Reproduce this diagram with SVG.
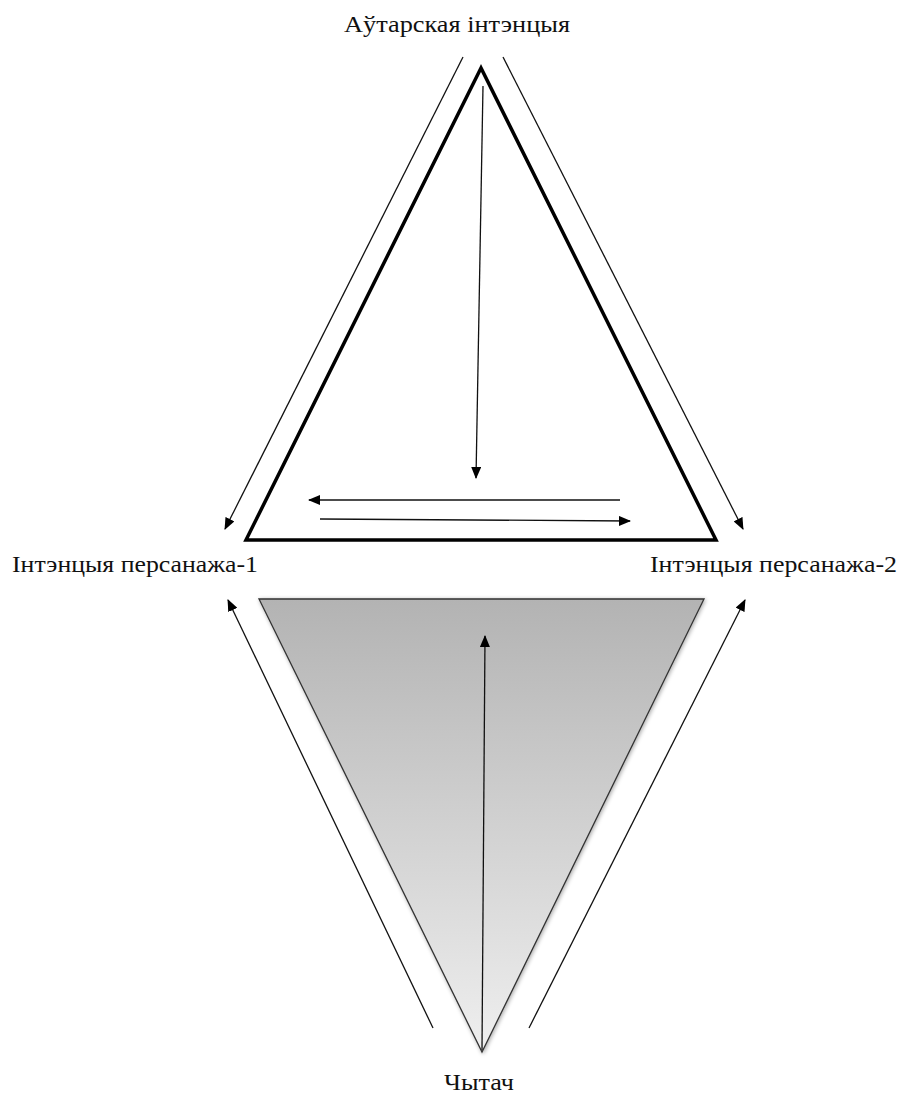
<svg xmlns="http://www.w3.org/2000/svg" width="901" height="1095" viewBox="0 0 901 1095">
<style>
.lbl{font-family:"Liberation Serif","DejaVu Serif",serif;font-size:23px;fill:#111}
.c{stroke:#111;stroke-width:1.3;fill:none}
</style>
<defs>
<marker id="ah" markerWidth="12" markerHeight="10" refX="11" refY="5" orient="auto" markerUnits="userSpaceOnUse">
<path d="M0,0 L12,5 L0,10 Z" fill="#000"/>
</marker>
<linearGradient id="g" x1="0" y1="0" x2="0" y2="1">
<stop offset="0" stop-color="#b3b3b3"/>
<stop offset="1" stop-color="#efefef"/>
</linearGradient>
<filter id="sh" x="-10%" y="-10%" width="120%" height="120%">
<feGaussianBlur in="SourceAlpha" stdDeviation="2"/>
<feOffset dx="1" dy="1"/>
<feComponentTransfer><feFuncA type="linear" slope="0.35"/></feComponentTransfer>
<feMerge><feMergeNode/><feMergeNode in="SourceGraphic"/></feMerge>
</filter>
</defs>
<rect width="901" height="1095" fill="#fff"/>
<g id="top-triangle">
<polygon points="481,68 246,540 716,540" fill="none" stroke="#000" stroke-width="3.5" stroke-linejoin="miter"/>
</g>
<g id="bottom-triangle">
<polygon points="259,599 704,599 482,1052" fill="url(#g)" stroke="#333" stroke-width="1.3" filter="url(#sh)"/>
</g>
<g id="labels">
<text id="author" class="lbl" x="457" y="32" text-anchor="middle" textLength="226" lengthAdjust="spacingAndGlyphs">Аўтарская інтэнцыя</text>
<text id="char1" class="lbl" x="12" y="572" textLength="246" lengthAdjust="spacingAndGlyphs">Інтэнцыя персанажа-1</text>
<text id="char2" class="lbl" x="650" y="572" textLength="247" lengthAdjust="spacingAndGlyphs">Інтэнцыя персанажа-2</text>
<text id="reader" class="lbl" x="479" y="1090" text-anchor="middle" textLength="70" lengthAdjust="spacingAndGlyphs">Чытач</text>
</g>
<g id="connectors">
<line class="c" x1="483" y1="86" x2="476" y2="478" marker-end="url(#ah)"/>
<line class="c" x1="620" y1="500" x2="309" y2="500" marker-end="url(#ah)"/>
<line class="c" x1="320" y1="519" x2="630" y2="521" marker-end="url(#ah)"/>
<line class="c" x1="463" y1="57" x2="225" y2="529" marker-end="url(#ah)"/>
<line class="c" x1="503" y1="57" x2="743" y2="529" marker-end="url(#ah)"/>
<line class="c" x1="482" y1="1050" x2="485" y2="636" marker-end="url(#ah)"/>
<line class="c" x1="433" y1="1028" x2="228" y2="600" marker-end="url(#ah)"/>
<line class="c" x1="529" y1="1028" x2="745" y2="600" marker-end="url(#ah)"/>
</g>
</svg>
